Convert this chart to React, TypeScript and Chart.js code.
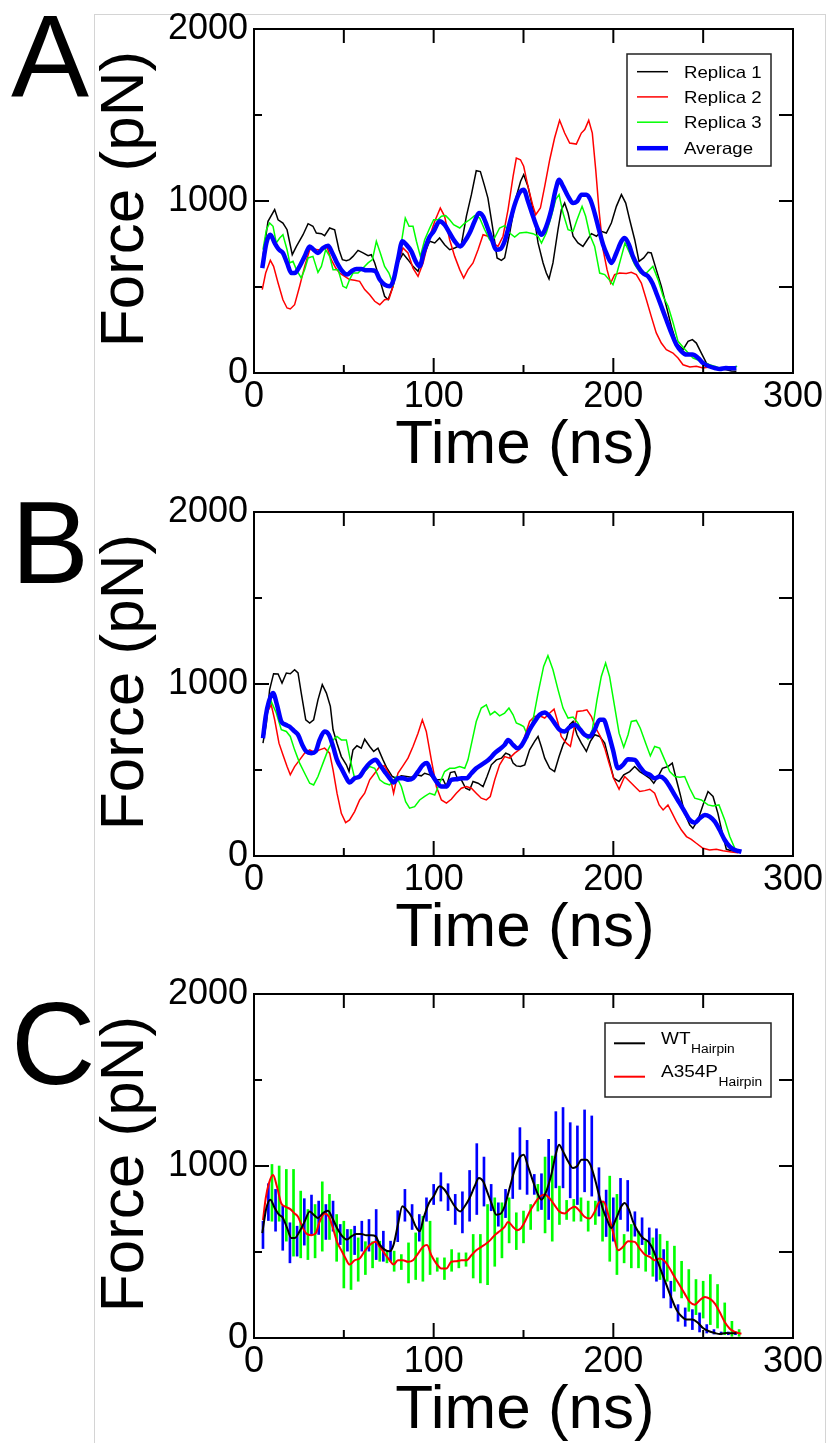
import React, { useEffect, useRef } from 'react';
import { Chart, registerables } from 'chart.js';

Chart.register(...registerables);

const FONT = '"Liberation Sans", Arial, Helvetica, sans-serif';

type Pt = [number, number];
type Bar = [number, number, number];

// ---------- tick labels / axes ----------
const xTickValues = [0, 100, 200, 300];
const xMinorValues = [50, 150, 250];
const yTickValues = [0, 1000, 2000];
const yMinorValues = [500, 1500];
const xTitle = 'Time (ns)';
const yTitle = 'Force (pN)';

// ---------- Panel A : WT hairpin replicas ----------
const aRep1: Pt[] = [[5,680],[7.8,882],[11.5,950],[13.4,891],[16.1,872],[18.4,833],[21.3,688],[23.6,736],[27.3,804],[30.1,868],[32.8,853],[34.7,814],[37.5,810],[39.3,798],[42.1,843],[44.9,833],[47.3,717],[49.2,659],[51.4,653],[53.2,659],[55.1,678],[57.9,713],[60.7,698],[63.5,682],[65.3,688],[67.2,640],[70,543],[72.7,446],[74.6,426],[77.4,504],[80.1,640],[82.9,694],[85.7,659],[88.5,620],[91.3,591],[94.1,678],[97.8,766],[100.6,756],[103.3,785],[106.1,746],[108.9,717],[111.7,727],[115.4,746],[118.2,911],[121,1037],[123.7,1176],[126,1171],[128.4,1085],[130.2,1017],[132.7,853],[135.3,669],[137.7,655],[139.5,669],[142.3,814],[146,1027],[148.4,1115],[150.1,1153],[152.5,1085],[155.3,950],[158.1,756],[160.9,640],[162.7,581],[164.2,547],[166.4,640],[169.2,833],[171.1,950],[172.9,988],[174.8,930],[177.6,795],[180.3,756],[183.1,736],[185,766],[187.8,810],[190.6,795],[193.3,824],[196.1,814],[198.9,872],[201.7,969],[204.5,1037],[206.9,988],[209.1,891],[211.9,775],[214.3,649],[216.9,669],[219.3,702],[221.1,698],[223.9,601],[226.7,504],[229.5,388],[232.3,271],[235.1,174],[238.8,136],[241.6,184],[244,194],[246.2,174],[249,116],[251.8,58],[255.5,29],[259.2,25],[262.9,19],[265.7,12],[268.5,10]];
const aRep2: Pt[] = [[4.6,485],[6.5,581],[9.1,655],[10.9,620],[13.4,523],[16.1,426],[18.4,378],[20.2,372],[22.6,397],[25.4,504],[28.2,620],[31,717],[32.8,721],[35.6,717],[38.4,717],[40.6,733],[43,659],[45.5,610],[47.7,581],[50.5,562],[53.2,543],[56,539],[58.8,533],[61.6,485],[64.4,455],[67.2,417],[70,397],[72.7,426],[75.1,430],[77.4,504],[80.1,640],[82.9,727],[85.7,698],[88.5,610],[91.3,562],[94.1,640],[97.8,795],[100.6,882],[103.7,959],[106.1,911],[108.9,775],[111.7,678],[114.5,601],[116.7,552],[119.1,601],[121.9,640],[124.7,717],[127.5,804],[130.2,795],[133,756],[135.8,736],[138.6,795],[141.4,950],[144.2,1143],[146,1250],[148.3,1240],[150.1,1202],[152.5,1085],[155.3,969],[156.8,920],[159.4,959],[161.8,1085],[164.6,1240],[167.3,1366],[170.1,1469],[172.9,1395],[175.7,1337],[179.4,1331],[182.2,1395],[184.1,1415],[186.3,1469],[188.3,1395],[190.2,1182],[192,950],[194.3,717],[196.5,601],[198.5,523],[200.7,572],[203.5,581],[207.2,578],[210,585],[212.8,572],[215.6,523],[218.4,426],[221.1,329],[223.9,233],[226.7,174],[229.5,136],[233.2,116],[236,87],[238.8,48],[242.6,35],[246.2,39],[249.9,29],[253.6,35],[257.3,29]];
const aRep3: Pt[] = [[5,717],[6.9,833],[8.7,872],[10.6,853],[12.4,756],[14.3,785],[16.1,804],[18.4,717],[19.9,640],[21.7,649],[23.6,601],[26.3,552],[28.2,601],[30.1,669],[32.8,678],[35.6,585],[37.5,620],[39.9,717],[42.1,678],[44,601],[46.8,601],[49.5,504],[51.4,494],[53.2,543],[55.1,581],[57.9,581],[60.7,610],[63.5,640],[65.9,659],[68.1,766],[70.3,698],[72.7,620],[75.1,581],[77.4,514],[79.2,601],[82,756],[84.2,901],[86.3,853],[88.5,853],[90.4,766],[92.6,678],[95,775],[97.8,843],[100,891],[102.4,891],[104.3,911],[106.7,915],[108.9,891],[111.1,862],[114.5,843],[117.3,872],[120,891],[122.8,915],[125.6,901],[128.4,833],[131.2,775],[133.9,785],[136.7,843],[139.5,857],[142.3,814],[145.1,790],[147.9,814],[151.6,818],[155.3,810],[158.1,795],[160,756],[162.7,814],[165.5,911],[167.9,1008],[169.8,1037],[172,930],[174.8,833],[177.6,824],[179.8,891],[182.6,969],[184.6,911],[186.9,804],[189.6,736],[192.4,581],[195.2,572],[197.6,543],[199.8,514],[202,581],[204.5,678],[206.5,756],[209.1,698],[211.9,630],[215,581],[218.4,581],[222,620],[224.9,543],[227.7,446],[230.5,388],[233.3,291],[236,184],[239.9,136],[244.4,87],[249,68],[253.6,48],[259.2,29],[264.8,23],[268.9,39]];
const aAvg: Pt[] = [[4.6,610],[6.9,756],[9.1,804],[11.5,756],[13.9,717],[16.1,698],[18.4,640],[20.8,581],[22.6,581],[25.4,620],[28.2,678],[31,736],[33.2,717],[35.6,698],[38.4,727],[41.2,740],[43.6,698],[46.2,640],[49.2,591],[51.8,572],[54.2,591],[57,605],[59.7,605],[62.5,597],[65.3,597],[67.7,591],[70,543],[72.7,514],[75.5,504],[77.7,543],[80.1,659],[82.6,766],[84.8,746],[87.6,707],[90,649],[92.2,620],[94.4,698],[97.4,785],[100,824],[103.3,882],[106.1,862],[108.9,814],[111.7,766],[114.8,736],[117.3,766],[120,814],[122.8,882],[125.2,930],[127.5,911],[129.7,853],[132.1,785],[134.9,717],[137.1,721],[139.5,766],[142.3,872],[145.1,979],[147.9,1050],[150.1,1066],[152.5,998],[155.3,911],[158.1,833],[160,804],[162.7,853],[165.5,950],[167.9,1066],[169.8,1124],[172,1085],[174.8,1027],[177.6,988],[179.8,998],[182.3,1037],[185,1037],[187.2,1008],[189.6,930],[192,833],[194.3,746],[196.5,688],[198.9,640],[201.7,698],[204.5,766],[206.3,785],[208.7,746],[210.9,678],[213.7,620],[216.5,581],[219.3,562],[221.7,523],[224.3,455],[226.7,388],[229.5,310],[232.3,233],[235.1,165],[237.9,126],[240.7,107],[244,107],[247.2,87],[249.9,58],[253.3,39],[256.5,29],[259.2,23],[262.6,29],[265.7,27],[268.5,29]];

// ---------- Panel B : A354P hairpin replicas ----------
const bRep1: Pt[] = [[5,656],[6.9,773],[8.7,967],[10.9,1060],[13.4,1058],[15.6,1005],[18,1064],[20.2,1060],[22.6,1083],[24.5,1064],[26.3,947],[28.8,792],[31,773],[33.2,792],[35.6,908],[38,996],[40.3,947],[42.5,870],[44,734],[46.2,656],[48.6,578],[51.4,530],[52.9,491],[55.1,617],[57.3,641],[59.7,627],[61.6,679],[64.4,637],[66.6,608],[69,627],[71.8,559],[74,510],[77,462],[79.2,452],[82,466],[84.8,462],[87.6,458],[90.4,472],[93.1,466],[95,481],[97.8,472],[100.6,443],[103,443],[105.2,446],[107.1,404],[109.3,485],[111.7,491],[113.5,443],[115.4,443],[117.8,394],[120,384],[121.9,433],[124.7,423],[127.5,404],[129.7,462],[132.1,530],[134.9,559],[137.7,569],[140.1,598],[142.3,588],[144.2,540],[146,524],[148.3,520],[150.7,530],[153.4,617],[156.2,666],[158.1,695],[159.9,637],[161.8,569],[164.6,510],[167.3,491],[169.8,578],[172,646],[173.9,685],[175.7,763],[177.6,782],[179.8,705],[182.2,656],[185,608],[187.2,666],[189.6,705],[192.4,695],[195.2,656],[197.6,559],[200.2,452],[203.2,433],[205.8,472],[209.1,491],[211.9,520],[214.7,491],[217.5,472],[220.3,452],[222.5,423],[224.9,462],[227.3,510],[230.4,520],[232.8,540],[235.1,443],[237.3,355],[239.7,248],[242.5,181],[244.3,161],[247.1,210],[249.9,297],[252.7,375],[255.5,346],[258.2,248],[260.7,132],[262.9,39],[265.7,31],[269.2,25]];
const bRep2: Pt[] = [[5.5,720],[7.5,840],[9.6,879],[11.5,792],[13.9,656],[16.1,588],[18.4,520],[20.2,472],[22.6,520],[25.4,559],[28.2,598],[31,617],[33.8,602],[36.5,617],[39.3,627],[42.1,598],[44,501],[46.2,365],[48.6,248],[51,194],[53.2,210],[56,258],[58.8,326],[61.6,365],[64.4,443],[67.2,481],[70,520],[72.7,524],[75.5,472],[77.7,365],[80.1,481],[82.9,524],[85.7,569],[88.5,637],[91.3,714],[93.7,792],[95.9,724],[98.7,559],[101.5,404],[104.3,326],[107.1,307],[109.8,330],[112.6,365],[115.4,394],[118.2,404],[121,394],[123.7,365],[126.5,336],[129.3,326],[131.5,346],[134,443],[136.7,530],[139.5,578],[142.3,569],[145.1,598],[148,620],[150.7,695],[153.4,782],[156.2,811],[159,815],[161.8,802],[164.6,831],[167,854],[169,782],[171,695],[173.9,656],[176.1,637],[178,734],[179.8,840],[183.1,844],[185.3,850],[187.8,811],[190.2,743],[192.8,695],[195.2,627],[197.6,540],[200.2,452],[203.2,388],[206.3,462],[209.1,433],[211.9,404],[214.7,375],[217.5,380],[220.3,388],[223,365],[225.5,297],[227.7,268],[230.4,297],[232.8,248],[235.1,200],[237.9,151],[240.7,113],[243.4,97],[246.2,74],[249.9,45],[253.6,35],[257.3,39],[261,31],[265.7,23],[269.4,19]];
const bRep3: Pt[] = [[6,760],[8,860],[9.6,899],[12.4,831],[15.2,734],[18,724],[20.2,695],[22.6,617],[25.4,540],[28.2,481],[31,423],[33.2,413],[35.6,462],[38.4,540],[41.2,617],[44,675],[46.2,695],[48.6,675],[51.4,675],[53.6,559],[56,452],[58.8,462],[61.6,491],[64.4,520],[67.2,510],[70,443],[72.7,423],[75.5,413],[79.2,462],[82,404],[84.4,316],[86.6,278],[89.4,287],[92.2,326],[95,346],[97.8,365],[100.6,355],[103.3,423],[106.1,491],[108.9,510],[111.7,510],[114.5,520],[117.3,510],[119.1,559],[121.5,675],[123.7,782],[126.5,860],[129.3,879],[131.5,821],[134,840],[136.7,815],[139.5,831],[141.9,860],[144.2,821],[146,773],[148.3,763],[150.1,753],[152.5,695],[155.3,792],[158.1,947],[161.2,1102],[163.6,1165],[166.4,1083],[169.2,967],[172,860],[174.8,802],[177.6,808],[180.3,773],[183.1,714],[185.9,679],[188.3,734],[190.9,908],[193.3,1044],[195.7,1122],[197.9,1044],[200.7,870],[203.2,714],[205.8,633],[208.2,705],[210,782],[212.8,788],[215,743],[218,656],[220.6,582],[223,637],[225.8,627],[228.6,559],[231.4,491],[234.2,462],[237,458],[239.7,462],[242.5,394],[245.3,336],[249,326],[252.7,297],[255.5,291],[258.8,297],[262,210],[264.8,113],[267.6,45],[270.4,25]];
const bAvg: Pt[] = [[5,685],[6.5,811],[8.3,899],[10.6,947],[12.8,879],[15.2,782],[17.6,763],[20.2,749],[22.6,724],[24.5,705],[26.9,646],[29.1,608],[31.9,598],[34.3,608],[36.5,675],[39.3,724],[41.7,705],[44,637],[46.2,559],[48.6,510],[51,462],[53.2,427],[56,452],[58.8,462],[61.6,505],[64.4,540],[67.7,559],[70,530],[72.7,491],[75.5,452],[77.7,427],[80.1,452],[82.9,452],[85.7,443],[88.5,452],[91.3,491],[94.1,530],[96.3,540],[98.7,481],[101.5,433],[104.3,404],[107.1,404],[109.8,443],[112.6,446],[115.4,452],[118.2,452],[121,481],[123.7,510],[126.5,530],[129.3,549],[131.5,569],[134,598],[136.7,621],[139.5,646],[141.4,675],[144.2,646],[146.4,627],[148.3,635],[150.7,675],[153.4,734],[156.2,782],[159,821],[161.8,835],[164.6,811],[167.3,773],[170.1,734],[172.9,724],[175.7,749],[178.5,763],[181.3,738],[184,705],[186.9,695],[189.6,734],[192.4,792],[194.6,792],[197,724],[199.8,617],[202.6,510],[205.4,530],[208.2,563],[211.9,559],[214.7,520],[217.5,485],[220.3,472],[223,452],[225.8,462],[228.6,446],[231.4,404],[234.1,355],[236.9,307],[239.7,258],[242.5,210],[245.3,194],[248.1,219],[250.9,239],[253.6,229],[256.5,200],[259.2,151],[262,93],[264.8,54],[267.6,35],[271.3,25]];

// ---------- Panel C : error bars [time, low, high] ----------
const wtBars: Bar[] = [[5,520,679],[8,683,897],[12,621,864],[16,510,767],[20,437,670],[24,476,650],[28,540,810],[32,602,831],[36,602,796],[40,573,776],[44,621,796],[48,543,660],[52,505,631],[56,485,650],[60,505,679],[64,505,689],[68,456,747],[72,446,621],[76,446,563],[80,560,740],[84,679,864],[88,631,776],[92,563,718],[96,679,815],[100,776,893],[104,796,961],[108,741,897],[112,660,835],[116,611,850],[120,679,974],[124,718,1130],[128,767,1052],[132,740,893],[136,650,786],[140,700,864],[144,811,1077],[148,864,1223],[152,835,1149],[156,835,951],[160,747,955],[164,689,1155],[168,873,1316],[172,873,1340],[176,815,1252],[180,776,1233],[184,850,1326],[188,825,1291],[192,709,990],[196,590,860],[200,563,815],[204,689,928],[208,621,916],[212,592,734],[216,543,699],[220,485,640],[224,330,635],[228,233,514],[232,175,330],[236,97,194],[240,68,175],[244,49,165],[248,35,146],[252,29,78],[256,23,49],[260,19,35],[264,19,35],[268,19,35]];
const mutBars: Bar[] = [[10,679,1009],[14,679,1000],[18,563,980],[22,476,980],[26,466,854],[30,456,747],[34,466,776],[38,505,908],[42,573,835],[46,446,718],[50,291,679],[54,282,631],[58,330,582],[62,369,560],[66,408,560],[70,446,563],[74,437,505],[78,388,505],[82,398,485],[86,320,553],[90,340,611],[94,330,708],[98,369,679],[102,388,466],[106,340,466],[110,388,514],[114,408,495],[118,417,495],[122,349,602],[126,320,602],[130,310,776],[134,417,815],[138,466,786],[142,553,815],[146,514,728],[150,553,738],[154,631,776],[158,738,893],[162,611,1052],[166,563,1058],[170,660,883],[174,689,800],[178,679,806],[182,679,815],[186,621,796],[190,660,796],[194,563,796],[198,446,941],[202,369,835],[206,437,602],[210,408,660],[214,408,621],[218,388,563],[222,359,582],[226,340,602],[230,330,563],[234,272,534],[238,233,446],[242,155,398],[246,136,340],[250,116,330],[254,78,369],[258,58,311],[262,19,204],[266,10,97],[270,10,49]];

const toXY = (pts: Pt[]) => pts.map(([x, y]) => ({ x, y }));
const toBars = (b: Bar[]) => b.map(([x, lo, hi]) => ({ x, y: [lo, hi] }));

const AREA_TOP = 29;
const AREA_BOTTOM = 373;
const AREA_LEFT = 254;
const AREA_RIGHT = 793;
const W = 830;

interface LegendItem { label: string; sub?: string; color: string; width: number }
interface LegendSpec {
  box: [number, number, number, number];
  lineY: number[];
  textY: number[];
  sample: [number, number];
  textX: number;
  font: number;
  subFont: number;
  stretch: number;
  items: LegendItem[];
}
interface PanelSpec {
  letter: string;
  letterY: number;
  top: number;
  height: number;
  datasets: any[];
  legend?: LegendSpec;
}

const line = (label: string, pts: Pt[], color: string, width: number, order: number, smooth = false) => ({
  type: 'line',
  label,
  data: toXY(pts),
  borderColor: color,
  backgroundColor: color,
  borderWidth: width,
  pointRadius: 0,
  fill: false,
  tension: smooth ? 0.4 : 0,
  cubicInterpolationMode: smooth ? 'monotone' : 'default',
  order,
});

const bars = (label: string, b: Bar[], color: string, order: number) => ({
  type: 'bar',
  label,
  data: toBars(b),
  backgroundColor: color,
  borderWidth: 0,
  barThickness: 2,
  grouped: false,
  order,
});

const panels: PanelSpec[] = [
  {
    letter: 'A',
    letterY: 97,
    top: 0,
    height: 483,
    datasets: [
      line('Average', aAvg, '#0000ff', 4.5, 0, true),
      line('Replica 3', aRep3, '#00ff00', 1.5, 1),
      line('Replica 2', aRep2, '#ff0000', 1.5, 2),
      line('Replica 1', aRep1, '#000000', 1.5, 3),
    ],
    legend: {
      box: [627, 54, 771, 166],
      lineY: [71.7, 96.9, 122.2, 148.2],
      textY: [77.5, 102.8, 128.1, 153.6],
      sample: [637, 668],
      textX: 684,
      font: 16.5,
      subFont: 11.5,
      stretch: 1.13,
      items: [
        { label: 'Replica 1', color: '#000000', width: 1.5 },
        { label: 'Replica 2', color: '#ff0000', width: 1.5 },
        { label: 'Replica 3', color: '#00ff00', width: 1.5 },
        { label: 'Average', color: '#0000ff', width: 4.5 },
      ],
    },
  },
  {
    letter: 'B',
    letterY: 100,
    top: 483,
    height: 482,
    datasets: [
      line('Average', bAvg, '#0000ff', 4.5, 0, true),
      line('Replica 3', bRep3, '#00ff00', 1.5, 1),
      line('Replica 2', bRep2, '#ff0000', 1.5, 2),
      line('Replica 1', bRep1, '#000000', 1.5, 3),
    ],
  },
  {
    letter: 'C',
    letterY: 119,
    top: 965,
    height: 478,
    datasets: [
      line('WT Hairpin', aAvg, '#000000', 2, 0, true),
      line('A354P Hairpin', bAvg, '#ff0000', 2, 1, true),
      bars('WT error', wtBars, '#0000ff', 3),
      bars('A354P error', mutBars, '#00ff00', 2),
    ],
    legend: {
      box: [605, 58, 771, 132],
      lineY: [78.3, 111.7],
      textY: [79.2, 112.4],
      sample: [614, 645],
      textX: 661,
      font: 16.5,
      subFont: 12,
      stretch: 1.15,
      items: [
        { label: 'WT', sub: 'Hairpin', color: '#000000', width: 2 },
        { label: 'A354P', sub: 'Hairpin', color: '#ff0000', width: 2 },
      ],
    },
  },
];

function decorPlugin(spec: PanelSpec) {
  return {
    id: 'decor' + spec.letter,
    afterDraw(chart: any) {
      const { ctx, chartArea: a, scales } = chart;
      const xs = scales.x;
      const ys = scales.y;
      ctx.save();
      ctx.strokeStyle = '#000';
      ctx.lineCap = 'butt';
      ctx.lineWidth = 2;
      const seg = (x1: number, y1: number, x2: number, y2: number) => {
        ctx.beginPath();
        ctx.moveTo(x1, y1);
        ctx.lineTo(x2, y2);
        ctx.stroke();
      };
      for (const v of xTickValues) {
        const p = xs.getPixelForValue(v);
        seg(p, a.bottom, p, a.bottom - 15);
        seg(p, a.top, p, a.top + 14);
      }
      for (const v of xMinorValues) {
        const p = xs.getPixelForValue(v);
        seg(p, a.bottom, p, a.bottom - 8);
        seg(p, a.top, p, a.top + 14);
      }
      for (const v of yTickValues) {
        const p = ys.getPixelForValue(v);
        seg(a.left, p, a.left + 15, p);
        seg(a.right, p, a.right - 14, p);
      }
      for (const v of yMinorValues) {
        const p = ys.getPixelForValue(v);
        seg(a.left, p, a.left + 8, p);
        seg(a.right, p, a.right - 14, p);
      }
      ctx.strokeRect(a.left, a.top, a.right - a.left, a.bottom - a.top);

      // axis titles
      ctx.fillStyle = '#000';
      ctx.font = `62px ${FONT}`;
      ctx.textAlign = 'center';
      ctx.textBaseline = 'alphabetic';
      ctx.fillText(xTitle, 525, a.bottom + 90);
      ctx.save();
      ctx.translate(143, (a.top + a.bottom) / 2 - 2);
      ctx.rotate(-Math.PI / 2);
      ctx.fillText(yTitle, 0, 0);
      ctx.restore();

      // panel letter
      ctx.font = `117px ${FONT}`;
      ctx.textAlign = 'left';
      ctx.fillText(spec.letter, 11, spec.letterY);

      // legend
      const lg = spec.legend;
      if (lg) {
        const [bx1, by1, bx2, by2] = lg.box;
        ctx.fillStyle = '#fff';
        ctx.fillRect(bx1, by1, bx2 - bx1, by2 - by1);
        ctx.strokeStyle = '#222';
        ctx.lineWidth = 1.5;
        ctx.strokeRect(bx1, by1, bx2 - bx1, by2 - by1);
        lg.items.forEach((it, i) => {
          ctx.strokeStyle = it.color;
          ctx.lineWidth = it.width;
          seg(lg.sample[0], lg.lineY[i], lg.sample[1], lg.lineY[i]);
          ctx.fillStyle = '#000';
          ctx.save();
          ctx.translate(lg.textX, lg.textY[i]);
          ctx.scale(lg.stretch, 1);
          ctx.font = `${lg.font}px ${FONT}`;
          ctx.textAlign = 'left';
          ctx.fillText(it.label, 0, 0);
          if (it.sub) {
            const w = ctx.measureText(it.label).width;
            ctx.font = `${lg.subFont}px ${FONT}`;
            ctx.fillText(it.sub, w + 0.5, 8.5);
          }
          ctx.restore();
        });
      }
      ctx.restore();
    },
  };
}

function makeOptions(spec: PanelSpec) {
  const tickFont = { family: FONT, size: 36 };
  return {
    animation: false,
    responsive: false,
    maintainAspectRatio: false,
    devicePixelRatio: 1,
    events: [],
    layout: { padding: { left: 0, right: W - AREA_RIGHT, top: AREA_TOP, bottom: 0 } },
    plugins: { legend: { display: false }, tooltip: { enabled: false }, title: { display: false } },
    scales: {
      x: {
        type: 'linear',
        min: 0,
        max: 300,
        offset: false,
        afterBuildTicks: (s: any) => { s.ticks = xTickValues.map((v) => ({ value: v })); },
        ticks: { autoSkip: false, maxRotation: 0, minRotation: 0, padding: 2, color: '#000', font: tickFont, callback: (v: any) => String(v) },
        grid: { display: false, drawTicks: false },
        border: { display: false },
        afterFit: (s: any) => { s.height = spec.height - AREA_BOTTOM; },
      },
      y: {
        type: 'linear',
        min: 0,
        max: 2000,
        afterBuildTicks: (s: any) => { s.ticks = yTickValues.map((v) => ({ value: v })); },
        ticks: { autoSkip: false, padding: 6, color: '#000', font: tickFont, callback: (v: any) => String(v) },
        grid: { display: false, drawTicks: false },
        border: { display: false },
        afterFit: (s: any) => { s.width = AREA_LEFT; },
      },
    },
  };
}

function Panel({ spec }: { spec: PanelSpec }) {
  const ref = useRef<HTMLCanvasElement | null>(null);
  useEffect(() => {
    if (!ref.current) return;
    const chart = new Chart(ref.current, {
      type: 'line',
      data: { datasets: spec.datasets },
      options: makeOptions(spec) as any,
      plugins: [decorPlugin(spec)],
    } as any);
    return () => chart.destroy();
  }, [spec]);
  return (
    <canvas
      ref={ref}
      width={W}
      height={spec.height}
      style={{ position: 'absolute', left: 0, top: spec.top, width: W, height: spec.height }}
    />
  );
}

export default function App() {
  return (
    <div style={{ position: 'absolute', left: 0, top: 0, width: W, height: 1443, overflow: 'hidden', background: '#fff' }}>
      <div
        style={{
          position: 'absolute',
          left: 94,
          top: 14,
          width: 730,
          height: 1500,
          borderLeft: '1px solid #d4d4d4',
          borderTop: '1px solid #d4d4d4',
          borderRight: '1px solid #d4d4d4',
        }}
      />
      {panels.map((p) => (
        <Panel key={p.letter} spec={p} />
      ))}
    </div>
  );
}
